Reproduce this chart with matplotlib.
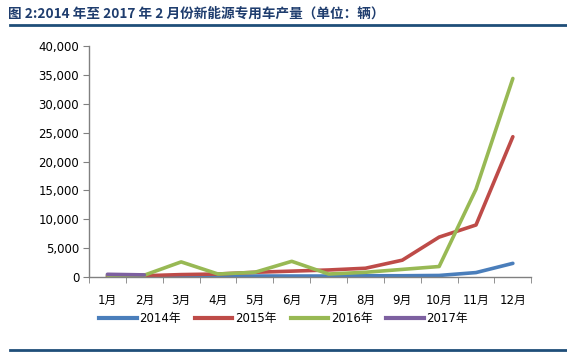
import numpy as np
import matplotlib.pyplot as plt
from matplotlib.lines import Line2D

plt.rcParams['font.family'] = ['DejaVu Sans', 'Noto Sans CJK SC']

months = ['1月', '2月', '3月', '4月', '5月', '6月', '7月', '8月', '9月', '10月', '11月', '12月']
y2014 = [100, 100, 100, 100, 150, 150, 150, 200, 200, 250, 750, 2350]
y2015 = [150, 200, 400, 500, 800, 1000, 1200, 1500, 2900, 6900, 9000, 24300]
y2016 = [300, 300, 2600, 500, 800, 2700, 500, 800, 1300, 1800, 15200, 34400]
y2017 = [450, 350]

colors = {'2014年': '#4a7ebb', '2015年': '#be4b48', '2016年': '#98b954', '2017年': '#7d60a0'}

fig = plt.figure(figsize=(5.67, 3.55), dpi=100)
ax = fig.add_axes([0.157, 0.22, 0.78, 0.65])

x = np.arange(len(months))
ax.plot(x, y2014, color=colors['2014年'], lw=2.6, solid_capstyle='round')
ax.plot(x, y2015, color=colors['2015年'], lw=2.6, solid_capstyle='round')
ax.plot(x, y2016, color=colors['2016年'], lw=2.6, solid_capstyle='round')
ax.plot(x[:len(y2017)], y2017, color=colors['2017年'], lw=2.6, solid_capstyle='round')

ax.set_xlim(-0.5, 11.5)
ax.set_ylim(0, 40000)
ax.set_yticks(range(0, 40001, 5000))
ax.set_yticklabels([f'{v:,}' for v in range(0, 40001, 5000)])
ax.set_xticks(x)
ax.set_xticklabels(months)
ax.set_xticks(np.arange(-0.5, 12, 1), minor=True)
ax.tick_params(axis='x', which='major', length=0, pad=12, labelsize=8.5)
ax.tick_params(axis='x', which='minor', length=4, color='#808080')
ax.tick_params(axis='y', length=4, color='#808080', labelsize=8.5, pad=3)

for s in ['top', 'right']:
    ax.spines[s].set_visible(False)
for s in ['left', 'bottom']:
    ax.spines[s].set_color('#808080')
    ax.spines[s].set_linewidth(1)

handles = [Line2D([0], [0], color=c, lw=3) for c in colors.values()]
fig.legend(handles, list(colors.keys()), loc='center', bbox_to_anchor=(0.5, 0.103),
           ncol=4, frameon=False, fontsize=8.5, handlelength=3.2, handletextpad=0.2,
           columnspacing=1.2)

fig.text(0.014, 0.962, '图 2:2014 年至 2017 年 2 月份新能源专用车产量（单位：辆）',
         fontsize=9.8, fontweight='bold', color='#1f3d6e', va='center',
         family=['Noto Sans CJK SC', 'DejaVu Sans'])
fig.add_artist(Line2D([0.018, 1.0], [0.93, 0.93], color='#1f4e79', lw=2))
fig.add_artist(Line2D([0.018, 1.0], [0.013, 0.013], color='#1f4e79', lw=2))

fig.savefig('out.png', dpi=100)
